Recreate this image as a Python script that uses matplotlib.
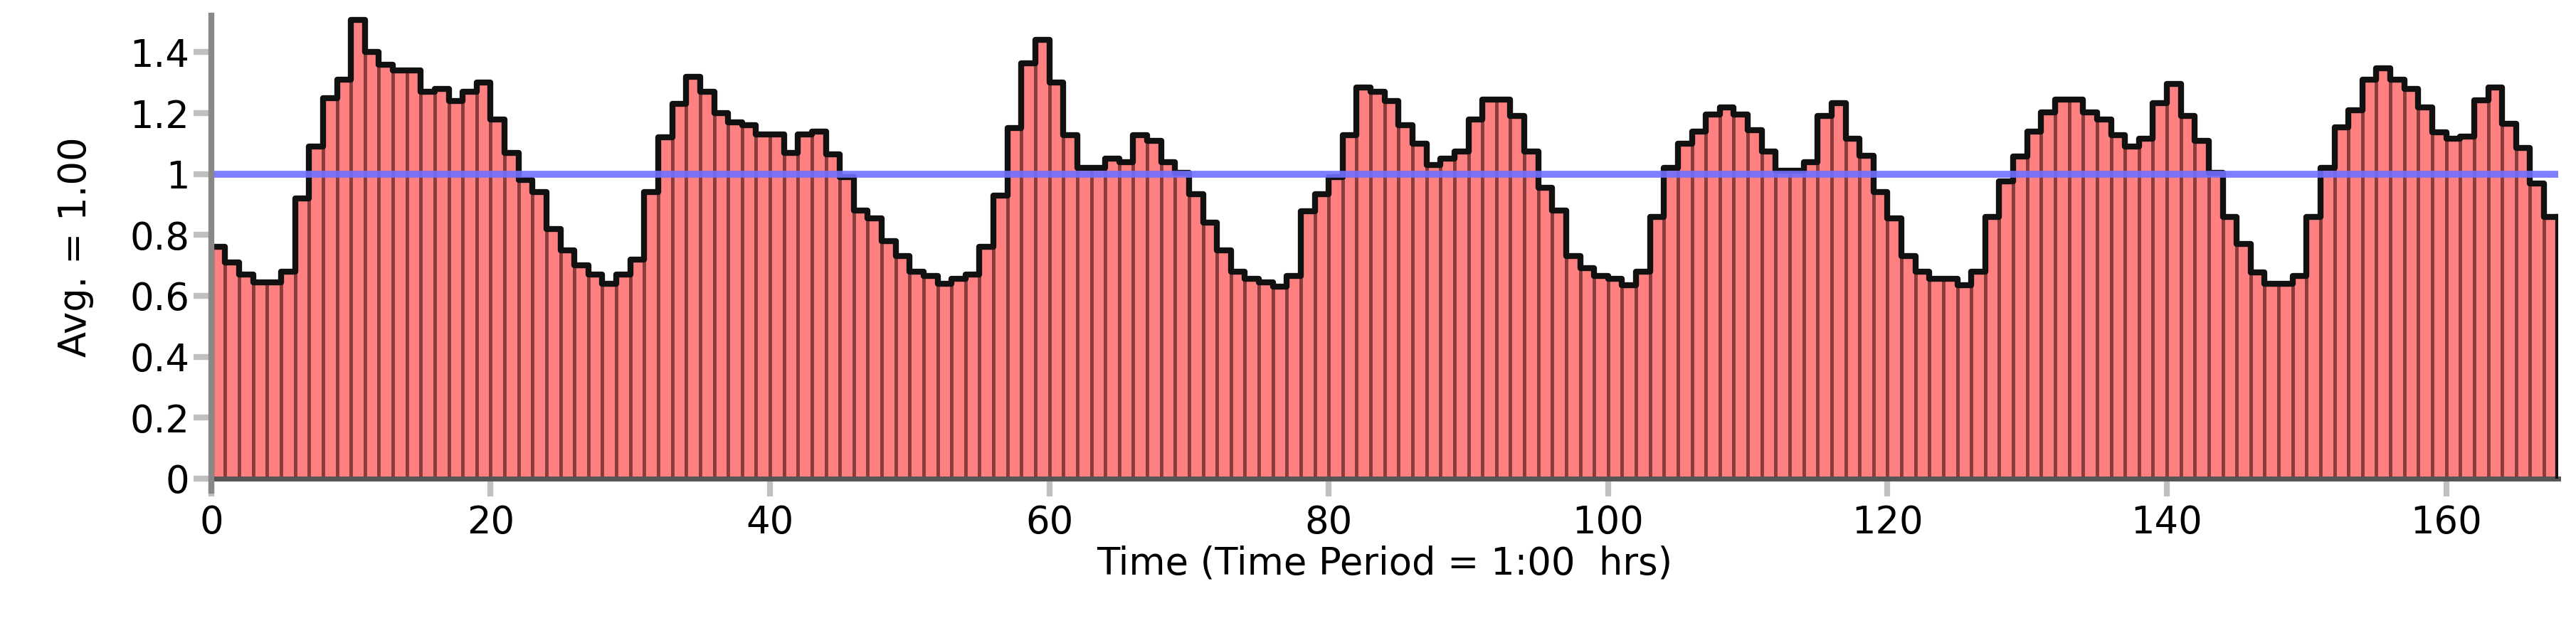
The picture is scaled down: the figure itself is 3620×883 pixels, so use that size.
import numpy as np
import matplotlib
matplotlib.use("Agg")
import matplotlib.pyplot as plt

# --- data: hourly average ratio, 168 hours ---
values = [
    0.76, 0.71, 0.67, 0.645, 0.645, 0.68, 0.92, 1.09, 1.25, 1.31,
    1.505, 1.40, 1.36, 1.34, 1.34, 1.27, 1.28, 1.24, 1.27, 1.30,
    1.18, 1.07, 0.98, 0.94, 0.82, 0.75, 0.70, 0.67, 0.64, 0.67,
    0.72, 0.94, 1.12, 1.23, 1.32, 1.27, 1.20, 1.17, 1.16, 1.13,
    1.13, 1.07, 1.13, 1.14, 1.065, 0.99, 0.88, 0.855, 0.78, 0.73,
    0.68, 0.665, 0.64, 0.657, 0.67, 0.76, 0.93, 1.15, 1.363, 1.44,
    1.30, 1.127, 1.02, 1.02, 1.05, 1.04, 1.127, 1.11, 1.04, 1.005,
    0.935, 0.84, 0.75, 0.68, 0.657, 0.645, 0.63, 0.665, 0.877, 0.935,
    0.99, 1.127, 1.284, 1.27, 1.24, 1.16, 1.10, 1.03, 1.05, 1.075,
    1.18, 1.245, 1.245, 1.19, 1.075, 0.955, 0.88, 0.73, 0.69, 0.665,
    0.657, 0.635, 0.68, 0.86, 1.02, 1.10, 1.14, 1.196, 1.22, 1.196,
    1.144, 1.074, 1.012, 1.012, 1.04, 1.19, 1.232, 1.117, 1.06, 0.94,
    0.855, 0.73, 0.68, 0.657, 0.657, 0.635, 0.68, 0.86, 0.977, 1.058,
    1.14, 1.203, 1.245, 1.245, 1.203, 1.18, 1.127, 1.09, 1.117, 1.232,
    1.297, 1.19, 1.11, 1.005, 0.86, 0.77, 0.677, 0.64, 0.64, 0.665,
    0.86, 1.02, 1.153, 1.21, 1.31, 1.347, 1.31, 1.28, 1.22, 1.137,
    1.117, 1.124, 1.242, 1.284, 1.166, 1.085, 0.969, 0.86,
]
avg = 1.00
hours = np.arange(len(values))

fig = plt.figure(figsize=(36.2, 8.83), dpi=100)
ax = fig.add_axes([0.082, 0.238, 0.911, 0.737])

ax.bar(hours, values, width=1.0, align="edge", color="#ff8080",
       edgecolor="#8a3c3c", linewidth=3.5, zorder=2)

# black outline along the bar tops
xs = np.concatenate([[0], hours, [len(values)]])
ys = np.concatenate([[0], values, [values[-1]]])
ax.step(xs, ys, where="post", color="#111111", linewidth=6, zorder=3)
ax.plot([len(values), len(values)], [0, values[-1]], color="#111111",
        linewidth=6, zorder=3)

ax.axhline(avg, color="#7070ff", linewidth=7, alpha=0.9, zorder=4)

ax.set_xlim(0, 168)
ax.set_ylim(0, 1.52)
ax.set_xticks(np.arange(0, 161, 20))
ax.set_yticks([0, 0.2, 0.4, 0.6, 0.8, 1.0, 1.2, 1.4])
ax.set_yticklabels(["0", "0.2", "0.4", "0.6", "0.8", "1", "1.2", "1.4"])

for s in ["top", "right"]:
    ax.spines[s].set_visible(False)
ax.spines["bottom"].set_color("#555555")
ax.spines["bottom"].set_linewidth(5)
ax.spines["left"].set_color("#888888")
ax.spines["left"].set_linewidth(6)
ax.spines["left"].set_bounds(-0.04, 1.52)
ax.spines["left"].set_zorder(5)
ax.tick_params(axis="both", colors="#c0c0c0", width=6, length=18,
               labelsize=38, labelcolor="black", pad=8)
ax.tick_params(axis="y", pad=4)

ax.set_xlabel("Time (Time Period = 1:00  hrs)", fontsize=38, labelpad=4)
ax.set_ylabel("Avg. = 1.00", fontsize=38, labelpad=36)

fig.savefig("out.png", dpi=100)
